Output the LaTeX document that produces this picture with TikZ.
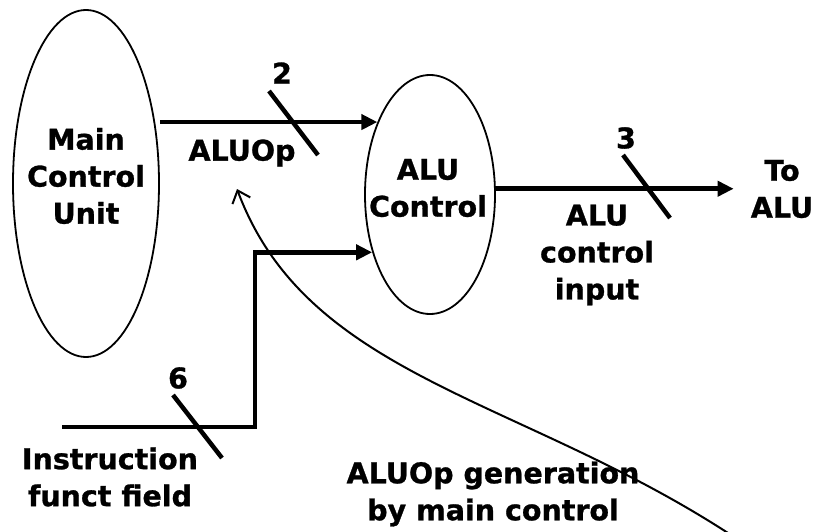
\documentclass[tikz,border=0pt]{standalone}
\usepackage{fontspec}
\setmainfont{DejaVu Sans}
\newfontface\heavyfont{DejaVu Sans Bold}[FakeBold=1]
\usetikzlibrary{arrows.meta,shapes.geometric}
\begin{document}
\begin{tikzpicture}[x=1pt,y=-1pt,
  lbl/.style={font=\heavyfont\fontsize{28.5}{37}\selectfont, align=center, inner sep=0pt},
  blob/.style={draw, ellipse, line width=1.8pt, inner sep=0pt},
  bus/.style={line width=4.5pt, -{Triangle[length=16pt,width=15pt]}},
  slash/.style={line width=4.5pt},
  callout/.style={line width=2pt, -{Straight Barb[length=11pt,width=19pt]}}]
\useasboundingbox (0,0) rectangle (824,532);

% blocks
\node[blob, minimum width=146pt, minimum height=347pt] (main) at (86,183.5) {};
\node[blob, minimum width=130pt, minimum height=239pt] (alu) at (430,194.5) {};
\node[lbl] (mainlbl) at (86,176) {Main\\Control\\Unit};
\node[lbl] (alulbl) at (428,188) {ALU\\Control};

% labels
\node[lbl] (aluop) at (242,153) {ALUOp};
\node[lbl] (n2) at (282,73) {2};
\node[lbl] (n3) at (626,138) {3};
\node[lbl] (n6) at (178,378) {6};
\node[lbl, inner xsep=17pt] (toalu) at (782,189) {To\\ALU};
\node[lbl] (ctlin) at (597,255) {ALU\\control\\input};
\node[lbl] (instrlbl) at (110,477) {Instruction\\funct field};
\node[lbl] (genlbl) at (493,494) {ALUOp generation\\by main control};

% connectors
\coordinate (instr) at (62,427);
\coordinate (bend) at (255,427);
\draw[bus] (main.east |- alu.126) -- (alu.126);
\draw[bus] (instr) -- (bend) |- (alu.225);
\draw[bus] (alu.5) -- (alu.5 -| toalu.west);

% bus-width slashes
\draw[slash] (269,91) -- (318,155);
\draw[slash] (623,155) -- (670,218);
\draw[slash] (173,395) -- (222,458);

% callout curve
\coordinate (cstart) at (728,533);
\coordinate (ctip) at (237,189);
\draw[callout] (cstart) .. controls (518,397) and (307,377) .. (ctip);
\end{tikzpicture}
\end{document}
